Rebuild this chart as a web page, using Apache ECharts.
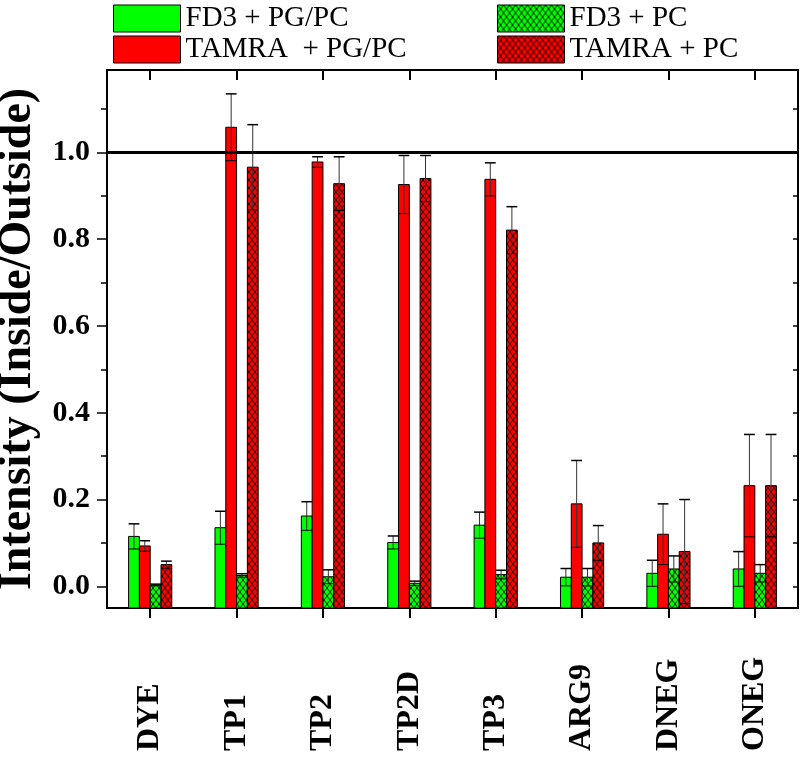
<!DOCTYPE html>
<html>
<head>
<meta charset="utf-8">
<script src="https://cdn.jsdelivr.net/npm/echarts@6/dist/echarts.min.js"></script>
<style>html,body{margin:0;padding:0;background:#fff;}#chart{width:800px;height:757px;}</style>
</head>
<body>
<div id="chart"></div>
<script>
// ---- data ----
const categories = ['DYE', 'TP1', 'TP2', 'TP2D', 'TP3', 'ARG9', 'DNEG', 'ONEG'];
const fd3PgPc     = [0.115, 0.135, 0.162, 0.101, 0.141, 0.021, 0.030, 0.040];
const fd3PgPcErr  = [0.029, 0.038, 0.033, 0.015, 0.030, 0.020, 0.030, 0.040];
const tamraPgPc    = [0.093, 1.058, 0.978, 0.926, 0.938, 0.190, 0.120, 0.232];
const tamraPgPcErr = [0.012, 0.077, 0.012, 0.067, 0.038, 0.100, 0.070, 0.118];
const fd3Pc     = [0.003, 0.025, 0.022, 0.007, 0.027, 0.021, 0.040, 0.030];
const fd3PcErr  = [0.002, 0.004, 0.016, 0.005, 0.010, 0.020, 0.030, 0.020];
const tamraPc    = [0.050, 0.966, 0.928, 0.940, 0.821, 0.100, 0.080, 0.232];
const tamraPcErr = [0.008, 0.098, 0.062, 0.053, 0.054, 0.040, 0.120, 0.118];
const seriesNames = ['FD3 + PG/PC', 'TAMRA  + PG/PC', 'FD3 + PC', 'TAMRA + PC'];
const yMajorTicks = [0, 0.2, 0.4, 0.6, 0.8, 1.0];
const yMinorTicks = [0.1, 0.3, 0.5, 0.7, 0.9, 1.1];
const yAllTicks = [0, 0.1, 0.2, 0.3, 0.4, 0.5, 0.6, 0.7, 0.8, 0.9, 1.0, 1.1];
const refLine = 1.0;

// ---- styles ----
const SERIF = 'Liberation Serif, Times New Roman, serif';
const GREEN = '#00ff00';
const RED = '#ff0000';
const BAR_FRAC = 0.125;

function hatch(base) {
  const c = document.createElement('canvas');
  c.width = 6; c.height = 8;
  const g = c.getContext('2d');
  g.fillStyle = base; g.fillRect(0, 0, 6, 8);
  g.strokeStyle = 'rgba(0,0,0,0.85)'; g.lineWidth = 1;
  g.beginPath();
  g.moveTo(0, 0); g.lineTo(6, 8);
  g.moveTo(6, 0); g.lineTo(0, 8);
  g.stroke();
  return { image: c, repeat: 'repeat' };
}
const fills = [GREEN, RED, hatch(GREEN), hatch(RED)];

function makeSeries(k, vals, errs) {
  const color = fills[k];
  return {
    name: seriesNames[k],
    type: 'custom',
    xAxisIndex: 0, yAxisIndex: 0,
    itemStyle: { color: color, borderColor: '#000', borderWidth: 1 },
    encode: { x: 0, y: 1 },
    data: vals.map((v, i) => [i, v, errs[i]]),
    renderItem: function (params, api) {
      const i = api.value(0), v = api.value(1), e = api.value(2);
      const band = api.size([1, 0])[0];
      const w = band * BAR_FRAC;
      const p = api.coord([i, v]);
      const cx = p[0] + (k - 1.5) * w;
      const cs = params.coordSys;
      const baseY = cs.y + cs.height;
      const hi = api.coord([i, v + e])[1];
      const lo = api.coord([i, v - e])[1];
      return {
        type: 'group',
        children: [
          { type: 'rect', shape: { x: cx - w / 2, y: p[1], width: w, height: baseY - p[1] },
            style: { fill: color, stroke: '#000', lineWidth: 1 } },
          { type: 'line', shape: { x1: cx, y1: hi, x2: cx, y2: lo }, style: { stroke: '#333', lineWidth: 1 } },
          { type: 'line', shape: { x1: cx - w / 2, y1: hi, x2: cx + w / 2, y2: hi }, style: { stroke: '#000', lineWidth: 1.5 } },
          { type: 'line', shape: { x1: cx - w / 2, y1: lo, x2: cx + w / 2, y2: lo }, style: { stroke: '#000', lineWidth: 1 } }
        ]
      };
    }
  };
}

const series = [
  makeSeries(0, fd3PgPc, fd3PgPcErr),
  makeSeries(1, tamraPgPc, tamraPgPcErr),
  makeSeries(2, fd3Pc, fd3PcErr),
  makeSeries(3, tamraPc, tamraPcErr)
];
series[3].markLine = {
  silent: true, symbol: 'none', label: { show: false },
  lineStyle: { color: '#000', width: 3, type: 'solid' },
  data: [{ yAxis: refLine }]
};

function legendItem(k) {
  return { name: seriesNames[k], itemStyle: { color: fills[k], borderColor: '#000', borderWidth: 1 } };
}
const legendCommon = {
  orient: 'vertical', top: 4, padding: 0, icon: 'rect',
  itemWidth: 67, itemHeight: 27, itemGap: 2,
  textStyle: { fontFamily: SERIF, fontSize: 29, color: '#000', lineHeight: 27 }
};

const YMIN = -0.05, YMAX = 1.19;
const axisLineStyle = { color: '#000', width: 2 };

const option = {
  animation: false,
  backgroundColor: '#fff',
  legend: [
    Object.assign({}, legendCommon, { left: 113, data: [legendItem(0), legendItem(1)] }),
    Object.assign({}, legendCommon, { left: 497, data: [legendItem(2), legendItem(3)] })
  ],
  grid: { left: 107, right: 2, top: 70, bottom: 149, containLabel: false, outerBoundsMode: 'none' },
  xAxis: [
    {
      type: 'category', data: categories, position: 'bottom',
      axisLine: { onZero: false, lineStyle: axisLineStyle },
      axisTick: { show: true, alignWithLabel: true, inside: false, length: 10, lineStyle: { color: '#000', width: 2 } },
      axisLabel: { rotate: 90, align: 'left', margin: 143, fontFamily: SERIF, fontWeight: 'bold', fontSize: 32, color: '#000', interval: 0 },
      splitLine: { show: false }
    },
    {
      type: 'category', data: categories, position: 'top',
      axisLine: { onZero: false, lineStyle: axisLineStyle },
      axisTick: { show: true, alignWithLabel: true, inside: true, length: 10, lineStyle: { color: '#000', width: 2 } },
      axisLabel: { show: false },
      splitLine: { show: false }
    }
  ],
  yAxis: [
    {
      type: 'value', position: 'left', min: YMIN, max: YMAX,
      name: 'Intensity (Inside/Outside)', nameLocation: 'middle', nameGap: 57,
      nameTextStyle: { fontFamily: SERIF, fontWeight: 'bold', fontSize: 46, color: '#000' },
      axisLine: { show: true, onZero: false, lineStyle: axisLineStyle },
      axisTick: { show: true, length: 10, customValues: yMajorTicks, lineStyle: { color: '#000', width: 1.5 } },
      axisLabel: { customValues: yMajorTicks, margin: 17, formatter: v => v.toFixed(1),
        fontFamily: SERIF, fontWeight: 'bold', fontSize: 30, color: '#000' },
      splitLine: { show: false }
    },
    {
      type: 'value', position: 'left', min: YMIN, max: YMAX,
      axisLine: { show: false, onZero: false },
      axisTick: { show: true, length: 6, customValues: yMinorTicks, lineStyle: { color: '#000', width: 1.5 } },
      axisLabel: { show: false },
      splitLine: { show: false }
    },
    {
      type: 'value', position: 'right', min: YMIN, max: YMAX,
      axisLine: { show: true, onZero: false, lineStyle: axisLineStyle },
      axisTick: { show: true, inside: true, length: 5, customValues: yAllTicks, lineStyle: { color: '#000', width: 1.5 } },
      axisLabel: { show: false },
      splitLine: { show: false }
    }
  ],
  series: series
};

const chart = echarts.init(document.getElementById('chart'), null, { renderer: 'canvas' });
chart.setOption(option);
</script>
</body>
</html>
